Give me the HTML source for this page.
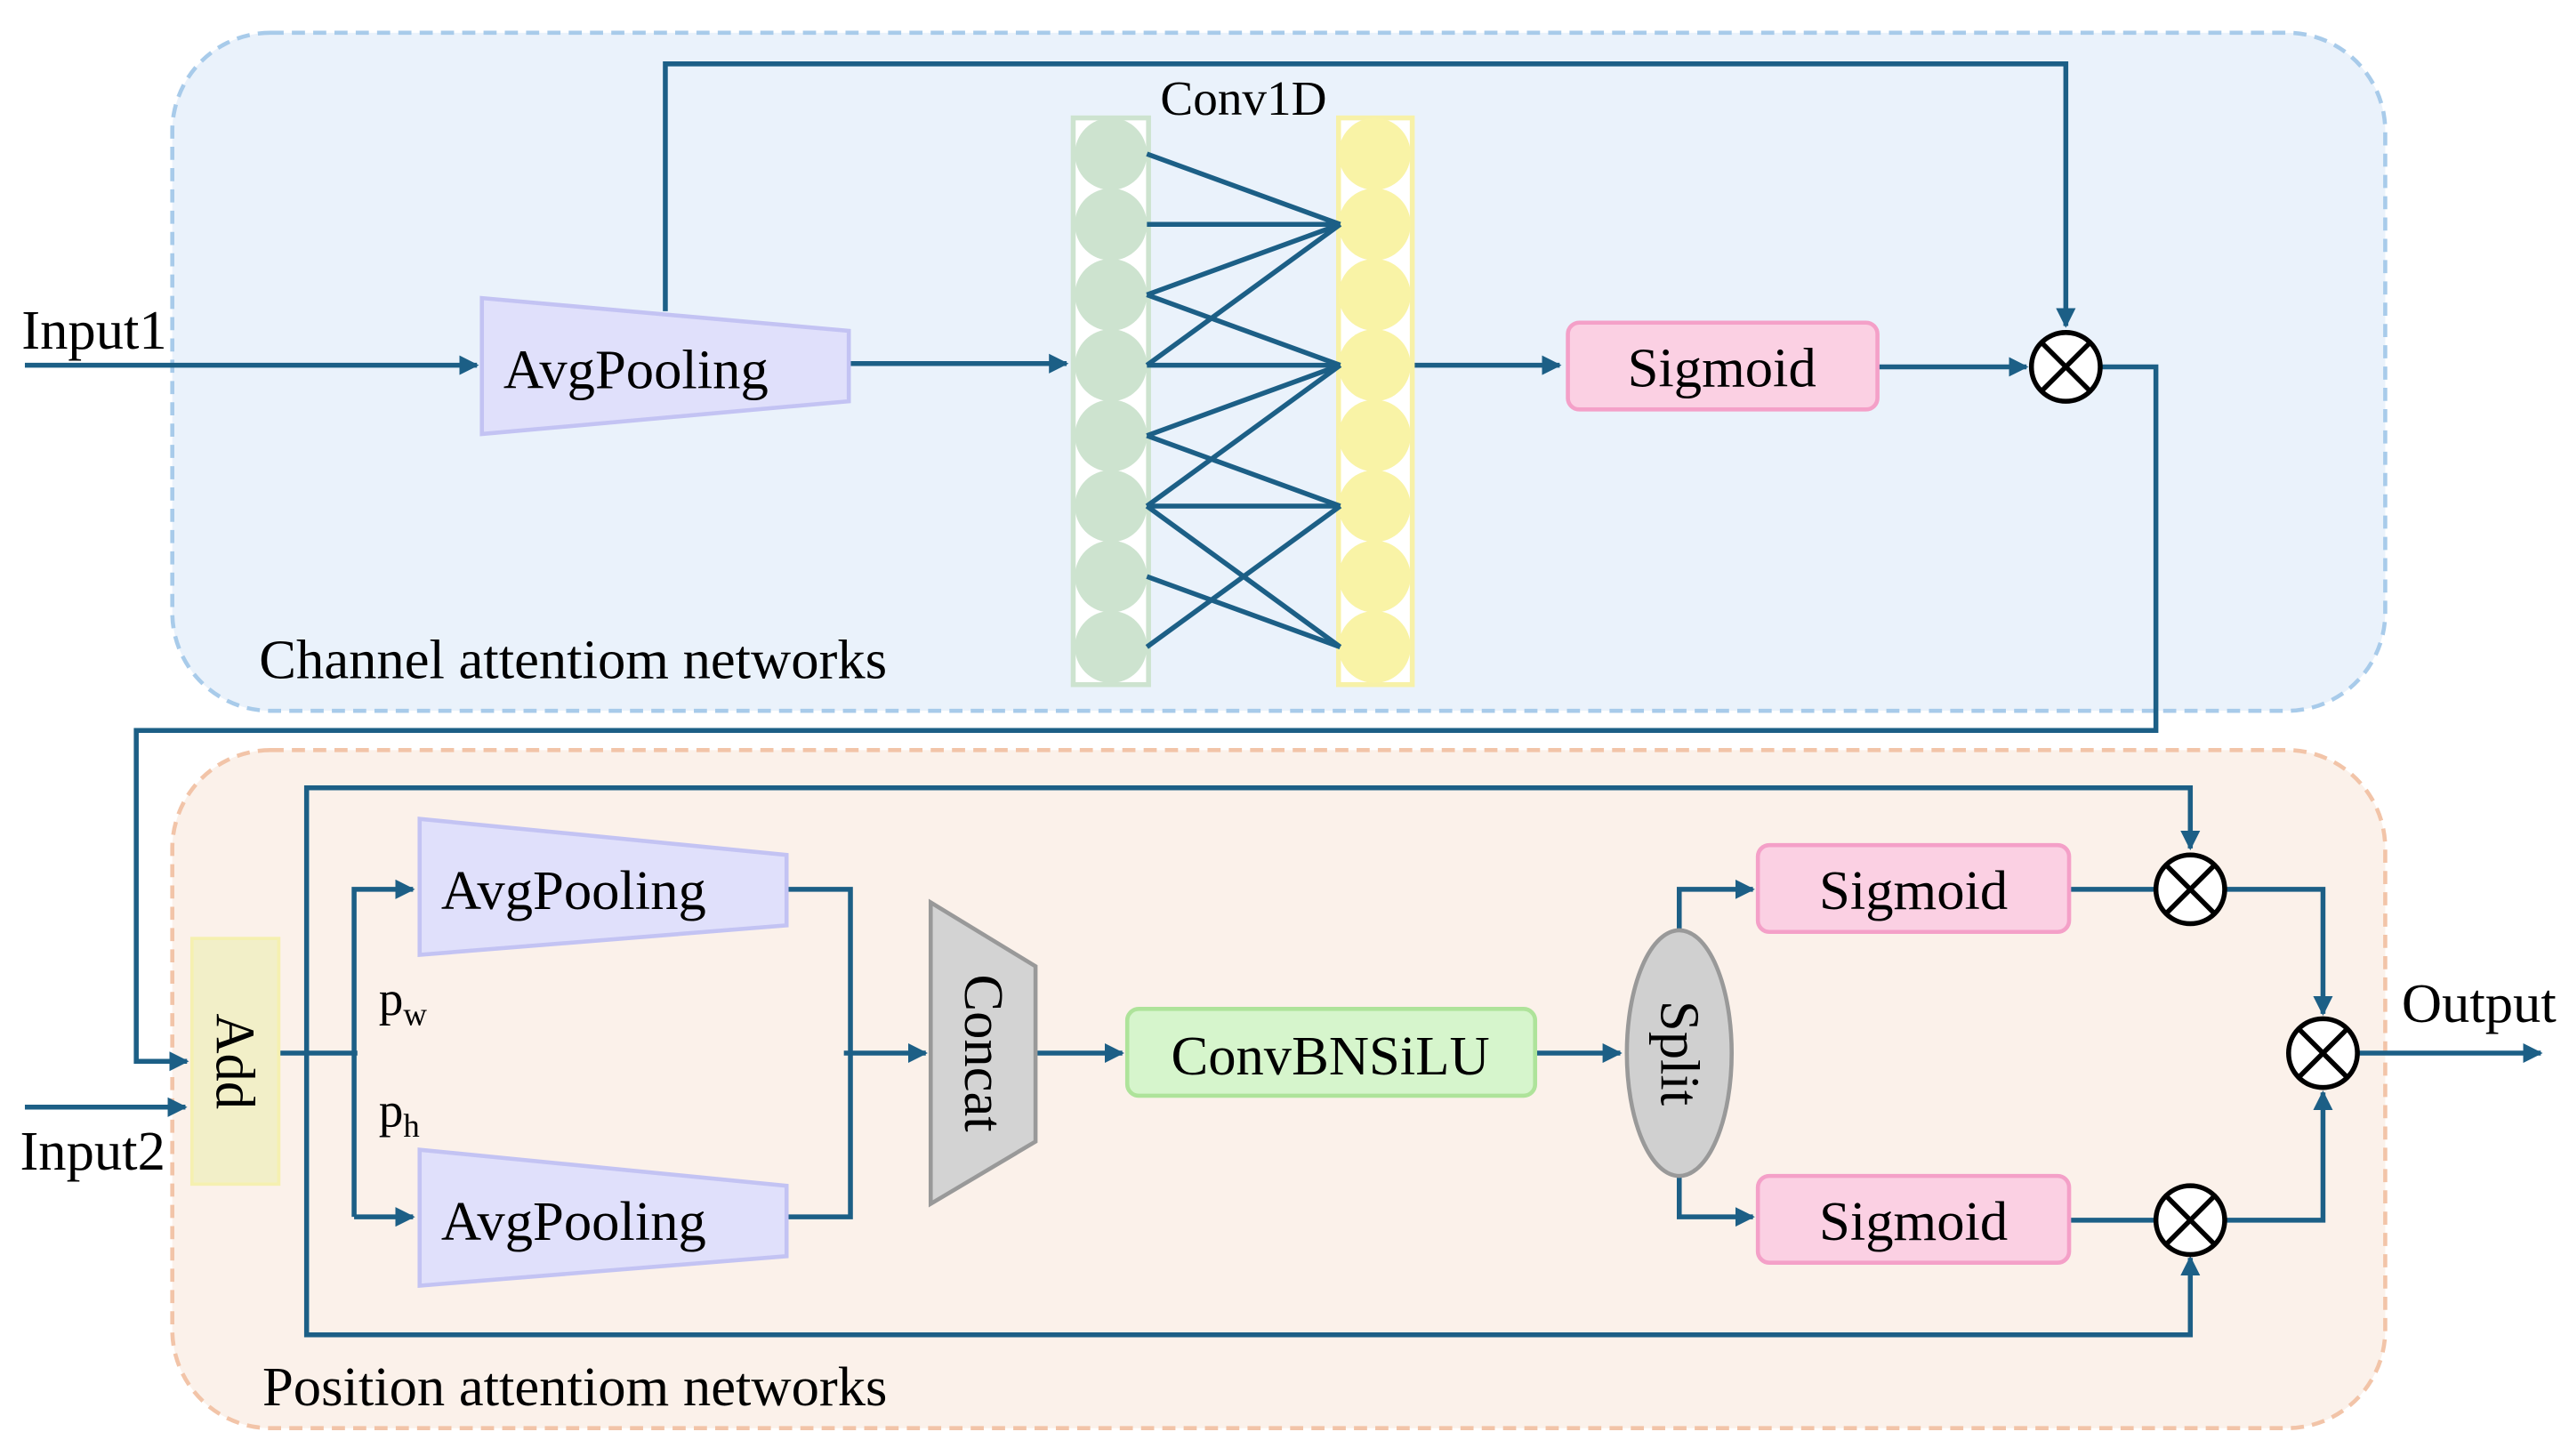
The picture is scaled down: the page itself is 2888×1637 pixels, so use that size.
<!DOCTYPE html>
<html><head><meta charset="utf-8"><style>html,body{margin:0;padding:0;background:#fff}svg{display:block}</style></head>
<body>
<svg width="2888" height="1637" viewBox="0 0 1568 889" xmlns="http://www.w3.org/2000/svg" font-family="'Liberation Serif', serif">
<defs>
<marker id="a" viewBox="0 0 10 10" refX="9" refY="5" markerWidth="4" markerHeight="4" orient="auto" markerUnits="strokeWidth"><path d="M0,0L10,5L0,10z" fill="#1c5f86"/></marker>
</defs>
<rect x="105" y="20" width="1351" height="414" rx="60" fill="#eaf2fb" stroke="#a8cbea" stroke-width="2.5" stroke-dasharray="8,5"/>
<rect x="105" y="458" width="1351" height="414" rx="60" fill="#fbf1ea" stroke="#f2c4a8" stroke-width="2.5" stroke-dasharray="8,5"/>
<g stroke="#1c5f86" stroke-width="3" fill="none">
<path d="M15,223H291" marker-end="url(#a)"/>
<path d="M518,222H651" marker-end="url(#a)"/>
<path d="M406,190V39H1261V199" marker-end="url(#a)"/>
<path d="M862,223H952" marker-end="url(#a)"/>
<path d="M1146,224H1237" marker-end="url(#a)"/>
<path d="M1283,224H1316V446H83V648H114" marker-end="url(#a)"/>
<path d="M15,676H113" marker-end="url(#a)"/>
<path d="M170,643H218"/>
<path d="M216,743V543H252" marker-end="url(#a)"/>
<path d="M216,743H252" marker-end="url(#a)"/>
<path d="M187,643V481H1337V518" marker-end="url(#a)"/>
<path d="M187,643V815H1337V768" marker-end="url(#a)"/>
<path d="M480,543H519V743H480"/>
<path d="M515,643H565" marker-end="url(#a)"/>
<path d="M632,643H685" marker-end="url(#a)"/>
<path d="M937,643H989" marker-end="url(#a)"/>
<path d="M1025,570V543H1070" marker-end="url(#a)"/>
<path d="M1025,716V743H1070" marker-end="url(#a)"/>
<path d="M1263,543H1316"/>
<path d="M1263,745H1316"/>
<path d="M1359,543H1418V619" marker-end="url(#a)"/>
<path d="M1359,745H1418V667" marker-end="url(#a)"/>
<path d="M1440,643H1551" marker-end="url(#a)"/>
</g>
<rect x="655" y="72" width="46" height="346" fill="#fff" stroke="#cde3cf" stroke-width="3"/>
<rect x="817" y="72" width="45" height="346" fill="#fff" stroke="#f7f1a8" stroke-width="3"/>
<g fill="#cde3cf">
<ellipse cx="678" cy="94" rx="22" ry="22"/><ellipse cx="678" cy="137" rx="22" ry="22"/><ellipse cx="678" cy="180" rx="22" ry="22"/><ellipse cx="678" cy="223" rx="22" ry="22"/><ellipse cx="678" cy="266" rx="22" ry="22"/><ellipse cx="678" cy="309" rx="22" ry="22"/><ellipse cx="678" cy="352" rx="22" ry="22"/><ellipse cx="678" cy="395" rx="22" ry="22"/>
</g>
<g fill="#f9f3a6">
<ellipse cx="839" cy="94" rx="22" ry="22"/><ellipse cx="839" cy="137" rx="22" ry="22"/><ellipse cx="839" cy="180" rx="22" ry="22"/><ellipse cx="839" cy="223" rx="22" ry="22"/><ellipse cx="839" cy="266" rx="22" ry="22"/><ellipse cx="839" cy="309" rx="22" ry="22"/><ellipse cx="839" cy="352" rx="22" ry="22"/><ellipse cx="839" cy="395" rx="22" ry="22"/>
</g>
<g stroke="#1c5f86" stroke-width="3">
<line x1="700" y1="94" x2="818" y2="137"/><line x1="700" y1="137" x2="818" y2="137"/><line x1="700" y1="180" x2="818" y2="137"/><line x1="700" y1="223" x2="818" y2="137"/>
<line x1="700" y1="180" x2="818" y2="223"/><line x1="700" y1="223" x2="818" y2="223"/><line x1="700" y1="266" x2="818" y2="223"/><line x1="700" y1="309" x2="818" y2="223"/>
<line x1="700" y1="266" x2="818" y2="309"/><line x1="700" y1="309" x2="818" y2="309"/><line x1="700" y1="395" x2="818" y2="309"/>
<line x1="700" y1="309" x2="818" y2="395"/><line x1="700" y1="352" x2="818" y2="395"/>
</g>
<text x="759" y="70" font-size="30" text-anchor="middle">Conv1D</text>
<polygon points="294,182 518,202 518,245 294,265" fill="#e0e0fb" stroke="#c3c3f3" stroke-width="2.5"/>
<text x="388" y="237" font-size="34" text-anchor="middle">AvgPooling</text>
<polygon points="256,500 480,522 480,565 256,583" fill="#e0e0fb" stroke="#c3c3f3" stroke-width="2.5"/>
<text x="350" y="555" font-size="34" text-anchor="middle">AvgPooling</text>
<polygon points="256,702 480,724 480,767 256,785" fill="#e0e0fb" stroke="#c3c3f3" stroke-width="2.5"/>
<text x="350" y="757" font-size="34" text-anchor="middle">AvgPooling</text>
<rect x="957" y="197" width="189" height="53" rx="7" fill="#fbd0e3" stroke="#f4a0c8" stroke-width="2.5"/>
<text x="1051" y="236" font-size="34" text-anchor="middle">Sigmoid</text>
<rect x="1073" y="516" width="190" height="53" rx="7" fill="#fbd0e3" stroke="#f4a0c8" stroke-width="2.5"/>
<text x="1168" y="555" font-size="34" text-anchor="middle">Sigmoid</text>
<rect x="1073" y="718" width="190" height="53" rx="7" fill="#fbd0e3" stroke="#f4a0c8" stroke-width="2.5"/>
<text x="1168" y="757" font-size="34" text-anchor="middle">Sigmoid</text>
<rect x="117" y="573" width="53" height="150" fill="#f2efc8" stroke="#f5f0b0" stroke-width="2"/>
<text transform="translate(143,648) rotate(90)" font-size="34" text-anchor="middle" dy="11">Add</text>
<polygon points="568,551 632,590 632,697 568,735" fill="#d3d3d3" stroke="#999" stroke-width="2.5"/>
<text transform="translate(600,643) rotate(90)" font-size="34" text-anchor="middle" dy="11">Concat</text>
<rect x="688" y="616" width="249" height="53" rx="7" fill="#d6f5cc" stroke="#aee39a" stroke-width="2.5"/>
<text x="812" y="656" font-size="34" text-anchor="middle">ConvBNSiLU</text>
<ellipse cx="1025" cy="643" rx="32" ry="75" fill="#d0d0d0" stroke="#999" stroke-width="2.5"/>
<text transform="translate(1025,643) rotate(90)" font-size="34" text-anchor="middle" dy="11">Split</text>
<g stroke="#000" stroke-width="3" fill="#fff">
<circle cx="1261" cy="224" r="21"/><circle cx="1337" cy="543" r="21"/><circle cx="1337" cy="745" r="21"/><circle cx="1418" cy="643" r="21"/>
</g>
<g stroke="#000" stroke-width="3">
<path d="M1246,209L1276,239M1276,209L1246,239"/>
<path d="M1322,528L1352,558M1352,528L1322,558"/>
<path d="M1322,730L1352,760M1352,730L1322,760"/>
<path d="M1403,628L1433,658M1433,628L1403,658"/>
</g>
<text x="13" y="213" font-size="34">Input1</text>
<text x="12" y="714" font-size="34">Input2</text>
<text x="1466" y="624" font-size="34">Output</text>
<text x="231" y="620" font-size="30">p<tspan font-size="20" dy="6">w</tspan></text>
<text x="231" y="688" font-size="30">p<tspan font-size="20" dy="6">h</tspan></text>
<text x="158" y="414" font-size="34">Channel attentiom networks</text>
<text x="160" y="858" font-size="34">Position attentiom networks</text>
</svg>
</body></html>
